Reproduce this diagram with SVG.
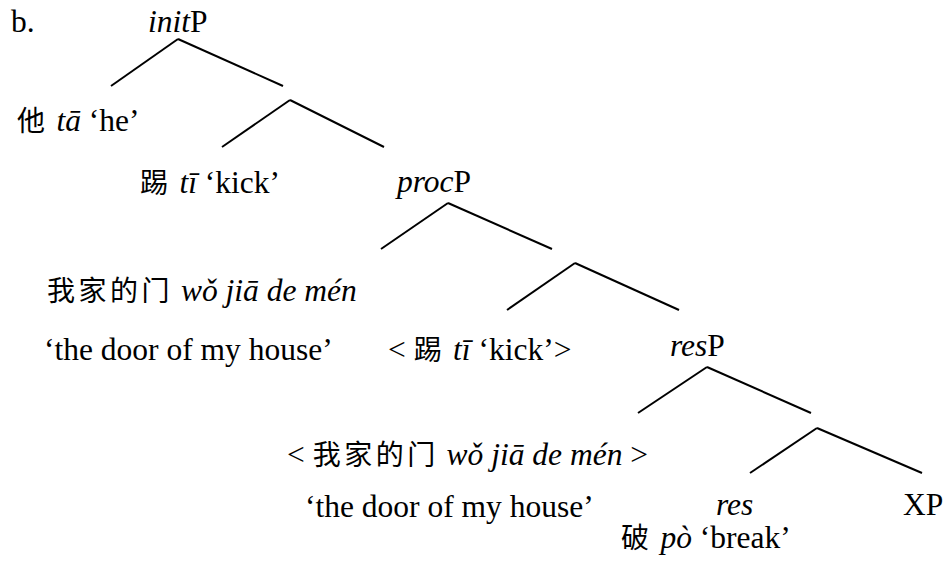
<svg xmlns="http://www.w3.org/2000/svg" width="944" height="563" viewBox="0 0 944 563">
<defs>
<line id="ln" x1="0" y1="0" x2="1" y2="0" stroke="#000" stroke-width="2"/>
</defs>
<rect width="944" height="563" fill="#fff"/>
<g id="connectors" stroke="#000" stroke-width="2" fill="none">
<line x1="178" y1="39" x2="111" y2="86"/>
<line x1="178" y1="39" x2="283" y2="86"/>
<line x1="290" y1="100" x2="222" y2="147"/>
<line x1="290" y1="100" x2="384" y2="147"/>
<line x1="448" y1="203" x2="381" y2="249"/>
<line x1="448" y1="203" x2="552" y2="249"/>
<line x1="575" y1="263" x2="507" y2="310"/>
<line x1="575" y1="263" x2="679" y2="310"/>
<line x1="707" y1="367" x2="638" y2="413"/>
<line x1="707" y1="367" x2="811" y2="413"/>
<line x1="817" y1="428" x2="750" y2="473"/>
<line x1="817" y1="428" x2="922" y2="473"/>
</g>
<g id="label-b"><text font-size="31.5" font-family="'Liberation Serif', serif" style="font-family:'Liberation Serif', serif" x="11" y="32">b.</text></g>
<g id="initP"><text font-size="31.5" font-family="'Liberation Serif', serif" style="font-family:'Liberation Serif', serif" x="148" y="32"><tspan font-style="italic">init</tspan>P</text></g>
<g id="ta"><text font-size="31.5" font-family="'Liberation Serif', serif" style="font-family:'Liberation Serif', serif" x="17" y="131"><tspan font-size="28" letter-spacing="3.5" font-family="Noto Sans CJK SC" style="font-family:'Noto Sans CJK SC'">他</tspan> <tspan font-style="italic">tā</tspan> ‘he’</text></g>
<g id="ti"><text font-size="31.5" font-family="'Liberation Serif', serif" style="font-family:'Liberation Serif', serif" x="140" y="193"><tspan font-size="28" letter-spacing="3.5" font-family="Noto Sans CJK SC" style="font-family:'Noto Sans CJK SC'">踢</tspan> <tspan font-style="italic">tī</tspan> ‘kick’</text></g>
<g id="procP"><text font-size="31.5" font-family="'Liberation Serif', serif" style="font-family:'Liberation Serif', serif" x="397" y="192"><tspan font-style="italic">proc</tspan>P</text></g>
<g id="door1"><text font-size="31.5" font-family="'Liberation Serif', serif" style="font-family:'Liberation Serif', serif" x="47" y="301"><tspan font-size="28" letter-spacing="3.5" font-family="Noto Sans CJK SC" style="font-family:'Noto Sans CJK SC'">我家的门</tspan> <tspan font-style="italic">wǒ jiā de mén</tspan></text>
<text font-size="31.5" font-family="'Liberation Serif', serif" style="font-family:'Liberation Serif', serif" x="44" y="360">‘the door of my house’</text></g>
<g id="ti2"><text font-size="31.5" font-family="'Liberation Serif', serif" style="font-family:'Liberation Serif', serif" x="388" y="360">&lt; <tspan font-size="28" letter-spacing="3.5" font-family="Noto Sans CJK SC" style="font-family:'Noto Sans CJK SC'">踢</tspan> <tspan font-style="italic">tī</tspan> ‘kick’&gt;</text></g>
<g id="resP"><text font-size="31.5" font-family="'Liberation Serif', serif" style="font-family:'Liberation Serif', serif" x="670" y="356"><tspan font-style="italic">res</tspan>P</text></g>
<g id="door2"><text font-size="31.5" font-family="'Liberation Serif', serif" style="font-family:'Liberation Serif', serif" x="287" y="465">&lt; <tspan font-size="28" letter-spacing="3.5" font-family="Noto Sans CJK SC" style="font-family:'Noto Sans CJK SC'">我家的门</tspan> <tspan font-style="italic">wǒ jiā de mén</tspan> &gt;</text>
<text font-size="31.5" font-family="'Liberation Serif', serif" style="font-family:'Liberation Serif', serif" x="305" y="517">‘the door of my house’</text></g>
<g id="res"><text font-size="31.5" font-style="italic" font-family="'Liberation Serif', serif" style="font-family:'Liberation Serif', serif" x="716" y="515">res</text>
<text font-size="31.5" font-family="'Liberation Serif', serif" style="font-family:'Liberation Serif', serif" x="621" y="548"><tspan font-size="28" letter-spacing="3.5" font-family="Noto Sans CJK SC" style="font-family:'Noto Sans CJK SC'">破</tspan> <tspan font-style="italic">pò</tspan> ‘break’</text></g>
<g id="XP"><text font-size="31.5" font-family="'Liberation Serif', serif" style="font-family:'Liberation Serif', serif" x="903" y="515">XP</text></g>
</svg>
